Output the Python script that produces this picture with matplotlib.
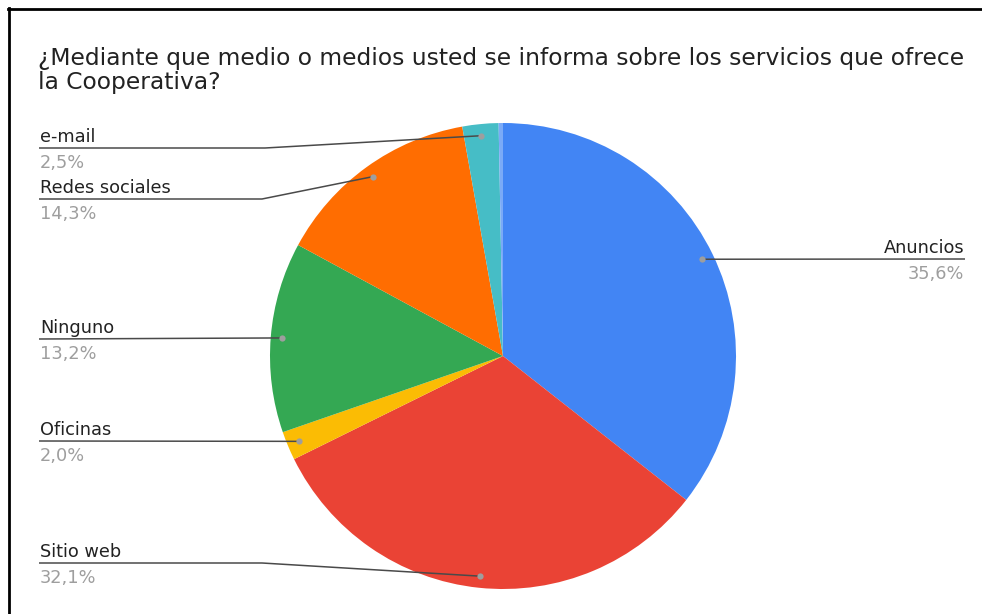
import numpy as np
import matplotlib
matplotlib.use("Agg")
import matplotlib.pyplot as plt
from matplotlib.lines import Line2D

# Survey answers, clockwise from 12 o'clock
categories = ["Anuncios", "Sitio web", "Oficinas", "Ninguno", "Redes sociales", "e-mail", "Otros"]
values = [35.6, 32.1, 2.0, 13.2, 14.3, 2.5, 0.3]
colors = ["#4285F4", "#EA4335", "#FBBC04", "#34A853", "#FF6D01", "#46BDC6", "#7BAAF7"]
title_lines = ["¿Mediante que medio o medios usted se informa sobre los servicios que ofrece",
               "la Cooperativa?"]

plt.rcParams["font.family"] = ["DejaVu Sans"]

W, H = 982, 614
fig = plt.figure(figsize=(W / 100, H / 100), dpi=100)
ax = fig.add_axes([0, 0, 1, 1])

cx, cy, R = 503, H - 356, 233
ax.pie(values, colors=colors, startangle=90, counterclock=False,
       center=(cx, cy), radius=R, frame=True,
       wedgeprops=dict(linewidth=0))
ax.set_xlim(0, W)
ax.set_ylim(0, H)
ax.set_aspect("equal")
ax.axis("off")

# Label layout: (leader line y in px from top, knee x or None, side)
layout = {
    "Anuncios": (259, None, "right"),
    "Sitio web": (563, 262, "left"),
    "Oficinas": (441, None, "left"),
    "Ninguno": (339, None, "left"),
    "Redes sociales": (199, 262, "left"),
    "e-mail": (148, 265, "left"),
}

total = sum(values)
cum = 0.0
for cat, v in zip(categories, values):
    mid = (cum + v / 2) / total * 360.0
    cum += v
    if cat not in layout:
        continue
    ly, knee, side = layout[cat]
    ang = np.deg2rad(90 - mid)
    dx, dy = cx + 0.95 * R * np.cos(ang), cy + 0.95 * R * np.sin(ang)
    Y = H - ly
    if side == "right":
        xs, ys = [dx, 965], [dy, Y]
        tx, ha = 964, "right"
    else:
        if knee is None:
            xs, ys = [dx, 39], [dy, Y]
        else:
            xs, ys = [dx, knee, 39], [dy, Y, Y]
        tx, ha = 40, "left"
    ax.plot(xs, ys, color="#4a4a4a", lw=1.1, solid_capstyle="butt", zorder=5)
    ax.plot([dx], [dy], "o", ms=4.5, color="#9e9e9e", mec="none", zorder=6)
    pct = f"{v:.1f}%".replace(".", ",")
    ax.text(tx, Y + 6, cat, ha=ha, va="baseline", fontsize=12.8, color="#222222")
    ax.text(tx, Y - 6, pct, ha=ha, va="top", fontsize=12.8, color="#9e9e9e")

for i, (line, base) in enumerate(zip(title_lines, [65, 89])):
    fig.text(38 / W, 1 - base / H, line, ha="left", va="baseline", fontsize=16.8,
             color="#222222")

# Frame around the chart
fig.add_artist(Line2D([8 / W, 1], [1 - 9 / H, 1 - 9 / H], color="black", lw=2))
fig.add_artist(Line2D([9 / W, 9 / W], [0, 1 - 8 / H], color="black", lw=2))

fig.savefig("out.png", dpi=100, facecolor="white")
